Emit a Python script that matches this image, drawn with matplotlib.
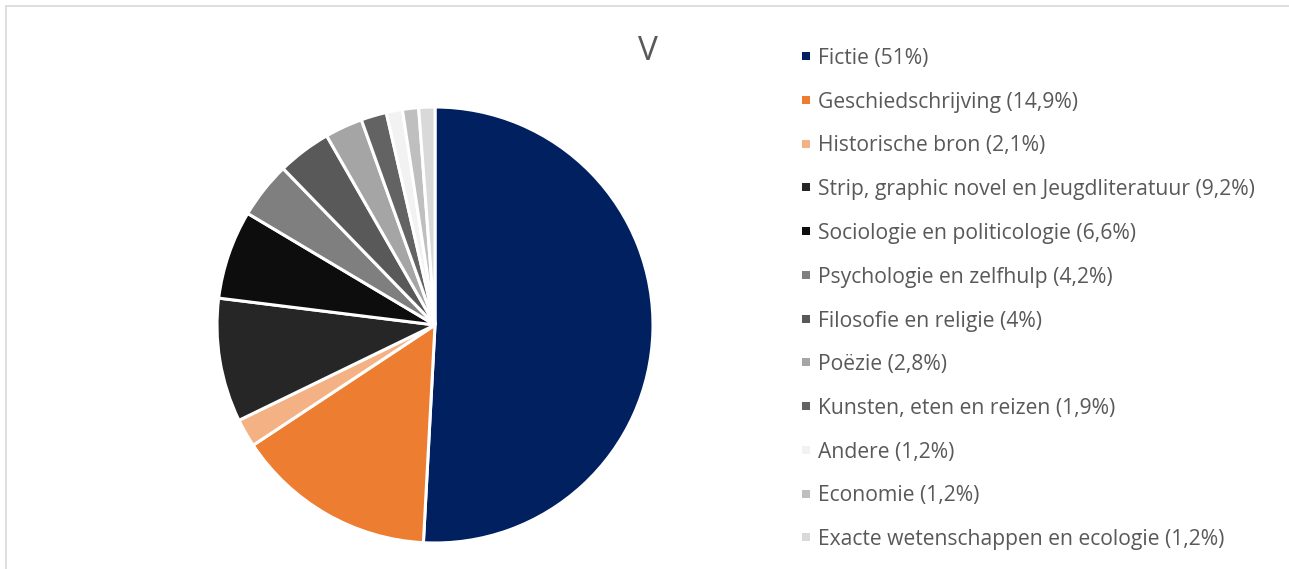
import matplotlib
matplotlib.use("Agg")
import matplotlib.pyplot as plt
from matplotlib.patches import Rectangle
from matplotlib.lines import Line2D

categories = ["Fictie", "Geschiedschrijving", "Historische bron",
              "Strip, graphic novel en Jeugdliteratuur", "Sociologie en politicologie",
              "Psychologie en zelfhulp", "Filosofie en religie", "Poëzie",
              "Kunsten, eten en reizen", "Andere", "Economie",
              "Exacte wetenschappen en ecologie"]
values = [51, 14.9, 2.1, 9.2, 6.6, 4.2, 4, 2.8, 1.9, 1.2, 1.2, 1.2]
value_labels = ["51%", "14,9%", "2,1%", "9,2%", "6,6%", "4,2%", "4%", "2,8%",
                "1,9%", "1,2%", "1,2%", "1,2%"]
colors = ["#002060", "#ED7D31", "#F4B183", "#262626", "#0D0D0D", "#7F7F7F",
          "#595959", "#A5A5A5", "#636363", "#F2F2F2", "#BFBFBF", "#D9D9D9"]
title = "V"

W, H = 1289, 569
fig = plt.figure(figsize=(W / 100, H / 100), dpi=100)
fig.patch.set_facecolor("white")
font = ["Open Sans", "DejaVu Sans"]

# border
fig.add_artist(Line2D([6 / W, 1], [1 - 6 / H, 1 - 6 / H], color="#D9D9D9", lw=1.2, transform=fig.transFigure))
fig.add_artist(Line2D([6 / W, 6 / W], [0, 1 - 6 / H], color="#D9D9D9", lw=1.2, transform=fig.transFigure))

cx, cy, r = 435, 325, 218
ax = fig.add_axes([(cx - r) / W, (H - cy - r) / H, 2 * r / W, 2 * r / H])
ax.pie(values, colors=colors, startangle=90, counterclock=False, radius=1,
       wedgeprops=dict(edgecolor="white", linewidth=2.2))
ax.set_xlim(-1, 1)
ax.set_ylim(-1, 1)
ax.set_aspect("equal")
ax.axis("off")

fig.text(648 / W, 1 - 51 / H, title, ha="center", va="center", fontsize=24,
         color="#595959", family=font)

y0, dy = 56, 43.75
for i, (c, v, col) in enumerate(zip(categories, value_labels, colors)):
    y = y0 + i * dy
    fig.add_artist(Rectangle(((806 - 4) / W, 1 - (y + 4) / H), 8 / W, 8 / H,
                             facecolor=col, edgecolor="none", transform=fig.transFigure))
    fig.text(818 / W, 1 - y / H, f"{c} ({v})", ha="left", va="center_baseline",
             fontsize=15.2, color="#595959", family=font)

fig.savefig("out.png", dpi=100, facecolor="white")
